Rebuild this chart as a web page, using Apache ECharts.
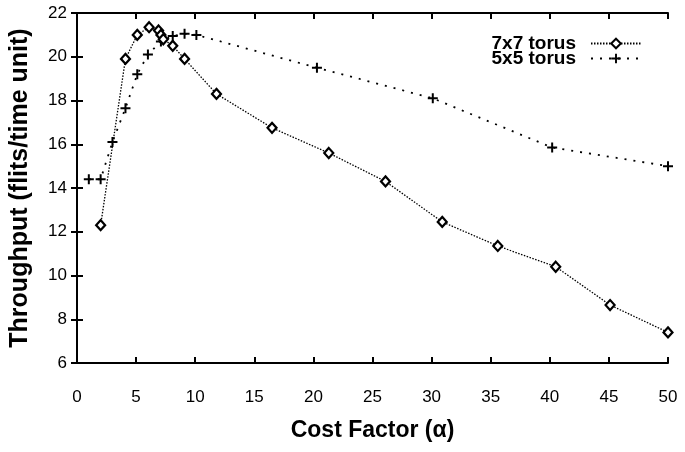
<!DOCTYPE html>
<html><head><meta charset="utf-8">
<script src="https://cdn.jsdelivr.net/npm/echarts@6/dist/echarts.min.js"></script>
<style>html,body{margin:0;padding:0;background:#fff}#c{width:685px;height:452px}</style>
</head><body><div id="c"></div>
<script>
const torus7x7X = [2, 4.1, 5.1, 6.1, 6.9, 7.1, 7.3, 8.1, 9.1, 11.8, 16.5, 21.3, 26.1, 30.9, 35.6, 40.5, 45.1, 50];
const torus7x7Y = [12.3, 19.9, 21.0, 21.35, 21.2, 21.0, 20.8, 20.5, 19.9, 18.3, 16.75, 15.6, 14.3, 12.45, 11.35, 10.4, 8.65, 7.4];
const torus5x5X = [1, 2, 3, 4.1, 5.1, 6.0, 7.1, 8.1, 9.1, 10.1, 20.3, 30.1, 40.2, 50];
const torus5x5Y = [14.4, 14.4, 16.1, 17.65, 19.2, 20.1, 20.7, 20.95, 21.05, 21.0, 19.5, 18.1, 15.85, 15.0];
const xTicks = [0, 5, 10, 15, 20, 25, 30, 35, 40, 45, 50];
const yTicks = [6, 8, 10, 12, 14, 16, 18, 20, 22];
const seriesNames = ['7x7 torus', '5x5 torus'];

const zip = (xs, ys) => xs.map((x, i) => [x, ys[i]]);
const plus = 'path://M4,0 L6,0 L6,4 L10,4 L10,6 L6,6 L6,10 L4,10 L4,6 L0,6 L0,4 L4,4 Z';
const font = 'Liberation Sans';
const axisCommon = {
  axisLine: {lineStyle: {color: '#000', width: 2}},
  axisTick: {inside: true, length: 6, lineStyle: {color: '#000', width: 2}},
  splitLine: {show: false}
};
const chart = echarts.init(document.getElementById('c'));
chart.setOption({
  animation: false,
  backgroundColor: '#fff',
  grid: {left: 77, right: 17, top: 13, bottom: 89},
  legend: {
    right: 38, top: 29, orient: 'vertical', align: 'right', itemGap: -4,
    itemWidth: 50, itemHeight: 12,
    textStyle: {fontFamily: font, fontWeight: 'bold', fontSize: 19, color: '#000', padding: [0, 10, 0, 0]},
    data: seriesNames
  },
  xAxis: [
    Object.assign({type: 'value', min: xTicks[0], max: xTicks[xTicks.length - 1], interval: 5,
      name: 'Cost Factor (α)', nameLocation: 'middle', nameGap: 56,
      nameTextStyle: {fontFamily: font, fontWeight: 'bold', fontSize: 23, color: '#000'},
      axisLabel: {margin: 26, fontFamily: font, fontSize: 17, color: '#000'}}, axisCommon),
    Object.assign({type: 'value', position: 'top', min: 0, max: 50, interval: 5,
      axisLabel: {show: false}}, axisCommon)
  ],
  yAxis: [
    Object.assign({type: 'value', min: yTicks[0], max: yTicks[yTicks.length - 1], interval: 2,
      name: 'Throughput (flits/time unit)', nameLocation: 'middle', nameGap: 44,
      nameTextStyle: {fontFamily: font, fontWeight: 'bold', fontSize: 25, color: '#000'},
      axisLabel: {margin: 10, fontFamily: font, fontSize: 17, color: '#000'}}, axisCommon),
    Object.assign({type: 'value', position: 'right', min: 6, max: 22, interval: 2,
      axisLabel: {show: false}}, axisCommon)
  ],
  series: [
    {
      name: seriesNames[0], type: 'line', data: zip(torus7x7X, torus7x7Y),
      symbol: 'diamond', symbolSize: [9, 10],
      lineStyle: {color: '#000', width: 1.3, type: [1.5, 1.5]},
      itemStyle: {color: '#fff', borderColor: '#000', borderWidth: 2.2},
      z: 3
    },
    {
      name: seriesNames[1], type: 'line', data: zip(torus5x5X, torus5x5Y),
      symbol: plus, symbolSize: 10,
      lineStyle: {color: '#000', width: 1.8, type: [2, 7]},
      itemStyle: {color: '#000'},
      z: 2
    }
  ]
});
</script></body></html>
